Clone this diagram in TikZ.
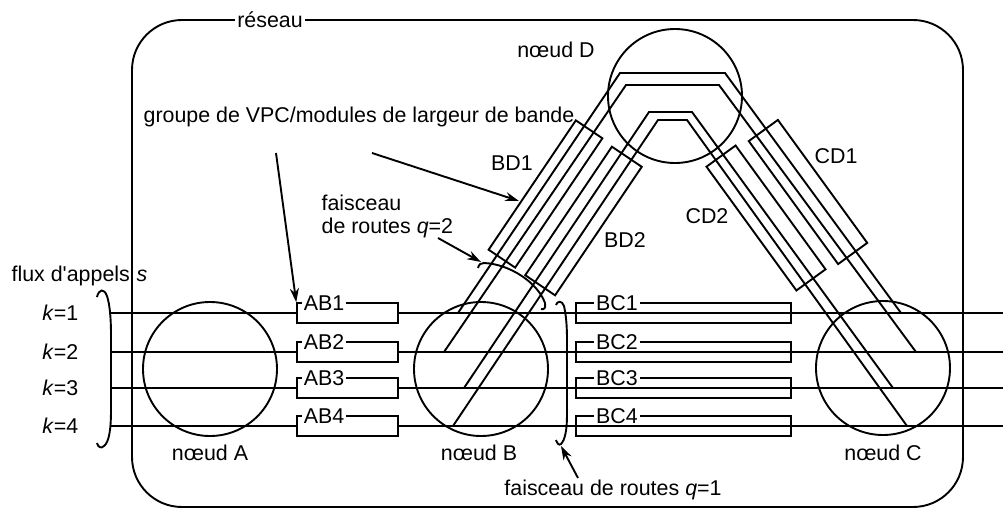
\documentclass[tikz,border=0pt]{standalone}
\usepackage{fontspec}
\setmainfont{Liberation Sans}[Ligatures=TeXOff]
\usetikzlibrary{arrows.meta}

\begin{document}
\begin{tikzpicture}[x=0.5pt,y=-0.5pt,line width=0.95pt,
    every node/.style={font=\fontsize{10.7}{11.5}\selectfont},
    station/.style={draw,circle,minimum size=67pt,inner sep=0pt},
    module/.style={draw,line width=0.75pt,minimum height=10pt,inner sep=0pt},
    vpcgroup/.style={draw,inner sep=0pt},
    boxlabel/.style={fill=white,inner sep=1pt},
    pointer/.style={-{Stealth[length=7pt,width=4.5pt]}}]
    \useasboundingbox (0,0) rectangle (1003,509);

    % reseau
    \draw[rounded corners=25pt] (132,20) rectangle (963,507);
    \node[boxlabel] (net) at (270,20) {réseau};

    % noeuds
    \node[station] (nA) at (210,369) {};
    \node[station] (nB) at (481,369) {};
    \node[station] (nC) at (883,368) {};
    \node[station] (nD) at (675,96) {};
    \node (lA) at (210,453) {nœud A};
    \node (lB) at (479,453) {nœud B};
    \node (lC) at (883,453) {nœud C};
    \node (lD) at (556,50) {nœud D};

    % flux d'appels
    \node[anchor=west] (flux) at (4,276) {flux d'appels};
    \node (src) at (142,276) {\textit{s}};
    \foreach \k/\y in {1/313,2/352,3/388,4/426} {
        \node[anchor=east] (k\k) at (86,\y) {\textit{k}=\k};
        \coordinate (in\k) at (110,\y);
        \coordinate (out\k) at (1003,\y);
        \node[module,minimum width=50.5pt] (AB\k) at (347.5,\y) {};
        \node[module,minimum width=107.5pt] (BC\k) at (683.5,\y) {};
        \node[boxlabel] at (324,\y-10) {AB\k};
        \node[boxlabel] at (617,\y-10) {BC\k};
        \draw (in\k) -- (AB\k.west);
        \draw (AB\k.east) -- (out\k);
    }

    % routes B - D - C
    \coordinate (b1) at (458,313);   \coordinate (c1) at (901,313);
    \coordinate (b2) at (444,352);   \coordinate (c2) at (916,352);
    \coordinate (b3) at (464,388);   \coordinate (c3) at (893,388);
    \coordinate (b4) at (453,426);   \coordinate (c4) at (907,426);
    \draw (b1) -- (620,73) -- (725,73) -- (c1);
    \draw (b2) -- (626,85) -- (719,85) -- (c2);
    \draw (b3) -- (649,112) -- (692,112) -- (c3);
    \draw (b4) -- (658,120) -- (687,120) -- (c4);

    % modules VPC
    \node[vpcgroup,rotate=56,minimum width=78pt,minimum height=16pt] (BD1) at (545.5,194) {};
    \node[vpcgroup,rotate=56,minimum width=77.5pt,minimum height=18pt] (BD2) at (583.5,221) {};
    \node[vpcgroup,rotate=-54,minimum width=76pt,minimum height=18pt] (CD1) at (808,192) {};
    \node[vpcgroup,rotate=-54,minimum width=76.5pt,minimum height=18pt] (CD2) at (766,218) {};
    \node (tBD1) at (512,163) {BD1};
    \node (tBD2) at (625,240) {BD2};
    \node (tCD1) at (836,156) {CD1};
    \node (tCD2) at (707,216) {CD2};

    % faisceaux
    \draw (97,297) .. controls (99,289) and (104,288) .. (107,296)
        .. controls (110,305) and (111,320) .. (111,335) -- (111,410)
        .. controls (111,430) and (109,442) .. (104,446)
        .. controls (101,449) and (98,447) .. (97,443);
    \draw (556,305) .. controls (557,301) and (562,300) .. (564,306)
        .. controls (566,315) and (567,325) .. (567,340) -- (567,415)
        .. controls (567,430) and (565,440) .. (561,444)
        .. controls (559,446) and (557,443) .. (556,440);
    \draw (478,268) .. controls (479,264) and (481,263) .. (484,263)
        .. controls (510,264) and (538,283) .. (545,303)
        .. controls (546,308) and (544,310) .. (541,309);
    \coordinate (q2) at (481,262);
    \coordinate (q1) at (561,446);

    % textes
    \node[anchor=west] (grp) at (136,117) {groupe de VPC/modules de largeur de bande};
    \node[anchor=north west,align=left] (fq2) at (314,187) {faisceau\\de routes \textit{q}=2};
    \node (fq1) at (613,490) {faisceau de routes \textit{q}=1};
    \coordinate (g1) at (276,153);
    \coordinate (g2) at (372,153);
    \coordinate (f2) at (438,238);
    \coordinate (f1) at (578,478);
    \coordinate (bd1edge) at (519,201);
    \draw[pointer] (g1) -- (AB1.north west);
    \draw[pointer] (g2) -- (bd1edge);
    \draw[pointer] (f2) -- (q2);
    \draw[pointer] (f1) -- (q1);
\end{tikzpicture}
\end{document}
